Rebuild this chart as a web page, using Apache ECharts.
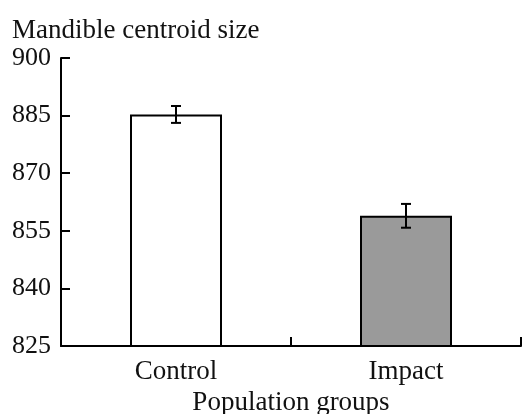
<!DOCTYPE html>
<html>
<head>
<meta charset="utf-8">
<script src="https://cdn.jsdelivr.net/npm/echarts@6/dist/echarts.min.js"></script>
<style>html,body{margin:0;padding:0;background:#fff}#c{width:528px;height:414px}</style>
</head>
<body>
<div id="c"></div>
<script>
const categories = ['Control', 'Impact'];
const means = [885.3, 858.9];
const errors = [2.2, 3.1];
const barColors = ['#ffffff', '#9a9a9a'];
const yTicks = { min: 825, max: 900, interval: 15 };

const font = 'Liberation Serif, Times New Roman, serif';
const chart = echarts.init(document.getElementById('c'), null, { renderer: 'canvas' });
chart.setOption({
  animation: false,
  title: {
    text: 'Mandible centroid size',
    left: 7, top: 12,
    textStyle: { fontFamily: font, fontSize: 27, fontWeight: 'normal', color: '#111' }
  },
  grid: { left: 61, right: 7, top: 58, bottom: 68, containLabel: false, outerBoundsMode: 'none' },
  xAxis: {
    type: 'category',
    data: categories,
    boundaryGap: true,
    name: 'Population groups',
    nameLocation: 'middle',
    nameGap: 39,
    nameTextStyle: { fontFamily: font, fontSize: 27, color: '#111' },
    axisLine: { lineStyle: { color: '#000', width: 2 } },
    axisTick: { show: true, inside: true, length: 9, alignWithLabel: false, lineStyle: { color: '#000', width: 2 } },
    axisLabel: { fontFamily: font, fontSize: 27, color: '#111', margin: 12 }
  },
  yAxis: {
    type: 'value',
    position: 'left',
    min: yTicks.min, max: yTicks.max, interval: yTicks.interval,
    axisLine: { show: true, lineStyle: { color: '#000', width: 2 } },
    axisTick: { show: true, inside: true, length: 9, lineStyle: { color: '#000', width: 2 } },
    splitLine: { show: false },
    axisLabel: { fontFamily: font, fontSize: 26, color: '#111', margin: 10, padding: [6, 0, 0, 0] }
  },
  series: [
    {
      type: 'bar',
      barWidth: '40%',
      data: means.map((v, i) => ({
        value: v,
        itemStyle: { color: barColors[i], borderColor: '#000', borderWidth: 2 }
      }))
    },
    {
      type: 'custom',
      z: 10,
      data: means.map((v, i) => [i, v - errors[i], v + errors[i]]),
      renderItem: function (params, api) {
        const lo = api.coord([api.value(0), api.value(1)]);
        const hi = api.coord([api.value(0), api.value(2)]);
        const w = 5;
        const style = { stroke: '#000', lineWidth: 2 };
        return {
          type: 'group',
          children: [
            { type: 'line', shape: { x1: hi[0], y1: hi[1], x2: lo[0], y2: lo[1] }, style },
            { type: 'line', shape: { x1: hi[0] - w, y1: hi[1], x2: hi[0] + w, y2: hi[1] }, style },
            { type: 'line', shape: { x1: lo[0] - w, y1: lo[1], x2: lo[0] + w, y2: lo[1] }, style }
          ]
        };
      }
    }
  ]
});
</script>
</body>
</html>
